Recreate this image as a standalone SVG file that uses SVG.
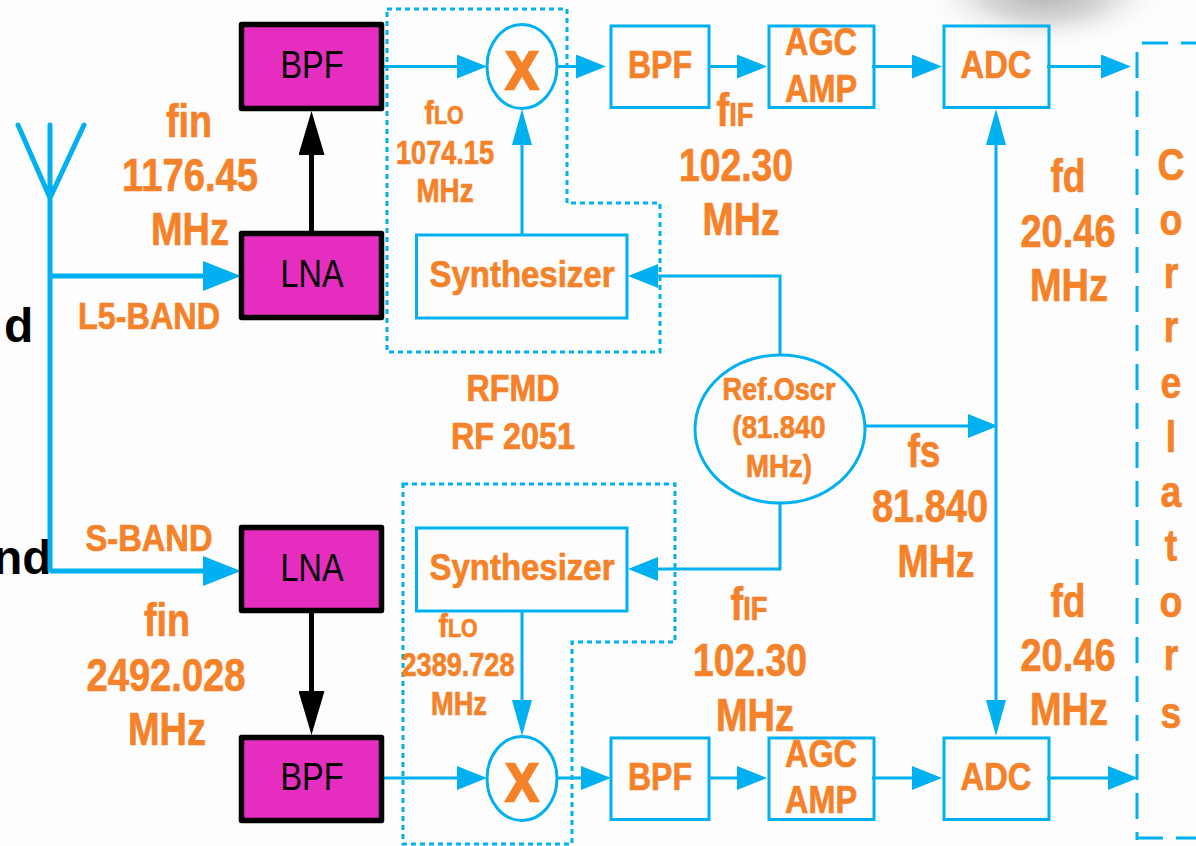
<svg xmlns="http://www.w3.org/2000/svg" width="1196" height="846" viewBox="0 0 1196 846">
<style>
.t{font-family:"Liberation Sans",Arial,sans-serif;font-weight:700;fill:#f58229;stroke:#f58229;stroke-width:.7;text-anchor:middle}
.x{stroke-width:2.5}
.b{font-family:"Liberation Sans",Arial,sans-serif;fill:#000;text-anchor:middle}
.k{font-family:"Liberation Sans",Arial,sans-serif;font-weight:700;fill:#000}
.box{fill:none;stroke:#00b0f0;stroke-width:3}
.ell{fill:#fdfdfd;stroke:#00b0f0;stroke-width:3}
.pink{fill:#e52dc0;stroke:#000;stroke-width:5.5;stroke-linejoin:round}
.c{fill:none;stroke:#00b0f0;stroke-width:3}
.dot{fill:none;stroke:#00b0f0;stroke-width:3;stroke-dasharray:5 4}
</style>
<defs>
<radialGradient id="sh"><stop offset="0" stop-color="#b0b0b0"/><stop offset="0.5" stop-color="#d8d8d8"/><stop offset="1" stop-color="#fdfdfd" stop-opacity="0"/></radialGradient>
<marker id="a" markerUnits="userSpaceOnUse" markerWidth="30" markerHeight="24" refX="0" refY="12" orient="auto"><path d="M0 0L30 12L0 24Z" fill="#00b0f0"/></marker>
<marker id="v" markerUnits="userSpaceOnUse" markerWidth="36" markerHeight="20" refX="0" refY="10" orient="auto"><path d="M0 0L36 10L0 20Z" fill="#00b0f0"/></marker>
<marker id="w" markerUnits="userSpaceOnUse" markerWidth="38" markerHeight="30" refX="0" refY="15" orient="auto"><path d="M0 0L38 15L0 30Z" fill="#00b0f0"/></marker>
<marker id="k" markerUnits="userSpaceOnUse" markerWidth="44" markerHeight="26" refX="0" refY="13" orient="auto"><path d="M0 0L44 13L0 26Z" fill="#000"/></marker>
</defs>
<rect width="1196" height="846" fill="#fdfdfd"/>
<ellipse cx="1045" cy="-10" rx="125" ry="60" fill="url(#sh)"/>
<text class="k" x="4" y="342" font-size="48">d</text>
<text class="k" x="-7" y="574" font-size="48">nd</text>

<g id="connectors">
<path d="M18 125L50 198L84 125M50 125V570" fill="none" stroke="#00b0f0" stroke-width="5" stroke-linecap="round" stroke-linejoin="round"/>
<path d="M50 276H203" fill="none" stroke="#00b0f0" stroke-width="5" marker-end="url(#w)"/>
<path d="M50 571H203" fill="none" stroke="#00b0f0" stroke-width="5" marker-end="url(#w)"/>
<path d="M311.500 232V155" fill="none" stroke="#000" stroke-width="5" marker-end="url(#k)"/>
<path d="M311.500 612V691" fill="none" stroke="#000" stroke-width="5" marker-end="url(#k)"/>
<path class="c" d="M381 66.500H457" marker-end="url(#a)"/>
<path class="c" d="M558 66.500H576" marker-end="url(#a)"/>
<path class="c" d="M710 66.500H737" marker-end="url(#a)"/>
<path class="c" d="M872 66.500H912" marker-end="url(#a)"/>
<path class="c" d="M1047 66.500H1101" marker-end="url(#a)"/>
<path class="c" d="M522 234V145" marker-end="url(#v)"/>
<path class="c" d="M780 355V276H658" marker-end="url(#a)"/>
<path class="c" d="M780 503V569H658" marker-end="url(#a)"/>
<path class="c" d="M522 612V700" marker-end="url(#v)"/>
<path class="c" d="M381 778H457" marker-end="url(#a)"/>
<path class="c" d="M558 778H581" marker-end="url(#a)"/>
<path class="c" d="M710 778H737" marker-end="url(#a)"/>
<path class="c" d="M872 778H912" marker-end="url(#a)"/>
<path class="c" d="M1047 778H1108" marker-end="url(#a)"/>
<path class="c" d="M864 426H968" marker-end="url(#a)"/>
<path class="c" d="M996 400V145" marker-end="url(#v)"/>
<path class="c" d="M996 400V700" marker-end="url(#v)"/>
</g>

<g id="lna-top"><rect class="pink" x="241.500" y="233.500" width="140" height="84"/><text class="b" x="312" y="287" font-size="39" textLength="63" lengthAdjust="spacingAndGlyphs">LNA</text></g>
<g id="bpf-top"><rect class="pink" x="241.500" y="24.500" width="140" height="84"/><text class="b" x="312" y="78" font-size="39" textLength="63" lengthAdjust="spacingAndGlyphs">BPF</text></g>
<g id="lna-bottom"><rect class="pink" x="241.500" y="527.500" width="140" height="83"/><text class="b" x="312" y="581" font-size="39" textLength="63" lengthAdjust="spacingAndGlyphs">LNA</text></g>
<g id="bpf-bottom"><rect class="pink" x="241.500" y="737.500" width="140" height="83"/><text class="b" x="312" y="790" font-size="39" textLength="63" lengthAdjust="spacingAndGlyphs">BPF</text></g>

<g id="rf-top-boundary"><path class="dot" d="M387 9H567V203H660V352H387Z"/></g>
<g id="rf-bottom-boundary"><path class="dot" d="M403 484H675V642H572V844H403Z"/></g>
<g id="correlators-boundary"><path d="M1137 52V840M1142 43H1196M1137 838H1196" fill="none" stroke="#00b0f0" stroke-width="3" stroke-dasharray="26 13"/></g>

<g id="mixer-top"><ellipse class="ell" cx="522" cy="66.500" rx="35" ry="42"/><text class="t x" x="522" y="89" font-size="54" textLength="33" lengthAdjust="spacingAndGlyphs">X</text></g>
<g id="mixer-bottom"><ellipse class="ell" cx="522" cy="778.500" rx="35" ry="42"/><text class="t x" x="522" y="801" font-size="54" textLength="33" lengthAdjust="spacingAndGlyphs">X</text></g>
<g id="synth-top"><rect class="box" x="416.500" y="235" width="210.500" height="83"/><text class="t" x="522" y="287" font-size="37" textLength="185" lengthAdjust="spacingAndGlyphs">Synthesizer</text></g>
<g id="synth-bottom"><rect class="box" x="416.500" y="528" width="210.500" height="83"/><text class="t" x="522" y="580" font-size="37" textLength="185" lengthAdjust="spacingAndGlyphs">Synthesizer</text></g>
<g id="if-bpf-top"><rect class="box" x="611" y="26" width="98" height="81.500"/><text class="t" x="660" y="78" font-size="38" textLength="64" lengthAdjust="spacingAndGlyphs">BPF</text></g>
<g id="agc-top"><rect class="box" x="769" y="26" width="105" height="81.500"/><text class="t" x="821" y="55" font-size="38" textLength="72" lengthAdjust="spacingAndGlyphs">AGC</text><text class="t" x="821" y="102" font-size="38" textLength="72" lengthAdjust="spacingAndGlyphs">AMP</text></g>
<g id="adc-top"><rect class="box" x="944" y="26" width="105" height="81.500"/><text class="t" x="996" y="78" font-size="38" textLength="71" lengthAdjust="spacingAndGlyphs">ADC</text></g>
<g id="if-bpf-bottom"><rect class="box" x="611" y="738" width="98" height="81.500"/><text class="t" x="660" y="790" font-size="38" textLength="64" lengthAdjust="spacingAndGlyphs">BPF</text></g>
<g id="agc-bottom"><rect class="box" x="769" y="738" width="105" height="81.500"/><text class="t" x="821" y="767" font-size="38" textLength="72" lengthAdjust="spacingAndGlyphs">AGC</text><text class="t" x="821" y="813" font-size="38" textLength="72" lengthAdjust="spacingAndGlyphs">AMP</text></g>
<g id="adc-bottom"><rect class="box" x="944" y="738" width="105" height="81.500"/><text class="t" x="996" y="790" font-size="38" textLength="71" lengthAdjust="spacingAndGlyphs">ADC</text></g>
<g id="ref-osc"><ellipse class="ell" cx="780" cy="429" rx="85" ry="74"/>
<text class="t" x="779" y="400" font-size="31" textLength="113" lengthAdjust="spacingAndGlyphs">Ref.Oscr</text>
<text class="t" x="779" y="438" font-size="31" textLength="93" lengthAdjust="spacingAndGlyphs">(81.840</text>
<text class="t" x="779" y="477" font-size="31" textLength="66" lengthAdjust="spacingAndGlyphs">MHz)</text></g>

<g id="labels">
<text class="t" x="189" y="137" font-size="46" textLength="46" lengthAdjust="spacingAndGlyphs">fin</text>
<text class="t" x="190" y="191" font-size="46" textLength="136" lengthAdjust="spacingAndGlyphs">1176.45</text>
<text class="t" x="190" y="245" font-size="46" textLength="78" lengthAdjust="spacingAndGlyphs">MHz</text>
<text class="t" x="149" y="329" font-size="37" textLength="142" lengthAdjust="spacingAndGlyphs">L5-BAND</text>
<text class="t" x="149" y="551" font-size="36" textLength="127" lengthAdjust="spacingAndGlyphs">S-BAND</text>
<text class="t" x="167" y="636" font-size="46" textLength="46" lengthAdjust="spacingAndGlyphs">fin</text>
<text class="t" x="166" y="691" font-size="46" textLength="159" lengthAdjust="spacingAndGlyphs">2492.028</text>
<text class="t" x="167" y="745" font-size="46" textLength="78" lengthAdjust="spacingAndGlyphs">MHz</text>
<text class="t" x="444" y="124" font-size="33" textLength="39" lengthAdjust="spacingAndGlyphs">f<tspan font-size="25">LO</tspan></text>
<text class="t" x="445" y="164" font-size="33" textLength="98" lengthAdjust="spacingAndGlyphs">1074.15</text>
<text class="t" x="445" y="202" font-size="33" textLength="57" lengthAdjust="spacingAndGlyphs">MHz</text>
<text class="t" x="458" y="637" font-size="33" textLength="39" lengthAdjust="spacingAndGlyphs">f<tspan font-size="25">LO</tspan></text>
<text class="t" x="458" y="676" font-size="33" textLength="113" lengthAdjust="spacingAndGlyphs">2389.728</text>
<text class="t" x="459" y="715" font-size="33" textLength="56" lengthAdjust="spacingAndGlyphs">MHz</text>
<text class="t" x="735" y="126" font-size="46" textLength="37" lengthAdjust="spacingAndGlyphs">f<tspan font-size="33">IF</tspan></text>
<text class="t" x="736" y="181" font-size="46" textLength="114" lengthAdjust="spacingAndGlyphs">102.30</text>
<text class="t" x="741" y="235" font-size="46" textLength="77" lengthAdjust="spacingAndGlyphs">MHz</text>
<text class="t" x="749" y="620" font-size="46" textLength="37" lengthAdjust="spacingAndGlyphs">f<tspan font-size="33">IF</tspan></text>
<text class="t" x="750" y="676" font-size="46" textLength="114" lengthAdjust="spacingAndGlyphs">102.30</text>
<text class="t" x="755" y="731" font-size="46" textLength="78" lengthAdjust="spacingAndGlyphs">MHz</text>
<text class="t" x="513" y="401" font-size="36" textLength="93" lengthAdjust="spacingAndGlyphs">RFMD</text>
<text class="t" x="513" y="449" font-size="36" textLength="124" lengthAdjust="spacingAndGlyphs">RF 2051</text>
<text class="t" x="1068" y="192" font-size="46" textLength="35" lengthAdjust="spacingAndGlyphs">fd</text>
<text class="t" x="1068" y="247" font-size="46" textLength="95" lengthAdjust="spacingAndGlyphs">20.46</text>
<text class="t" x="1069" y="301" font-size="46" textLength="78" lengthAdjust="spacingAndGlyphs">MHz</text>
<text class="t" x="1068" y="617" font-size="46" textLength="35" lengthAdjust="spacingAndGlyphs">fd</text>
<text class="t" x="1068" y="671" font-size="46" textLength="95" lengthAdjust="spacingAndGlyphs">20.46</text>
<text class="t" x="1069" y="725" font-size="46" textLength="78" lengthAdjust="spacingAndGlyphs">MHz</text>
<text class="t" x="924" y="467" font-size="46" textLength="33" lengthAdjust="spacingAndGlyphs">fs</text>
<text class="t" x="930" y="522" font-size="46" textLength="116" lengthAdjust="spacingAndGlyphs">81.840</text>
<text class="t" x="936" y="577" font-size="46" textLength="77" lengthAdjust="spacingAndGlyphs">MHz</text>
<text class="t" transform="translate(1171 0) scale(.85 1)" x="0 0 0 0 0 0 0 0 0 0 0" y="180 235 288 342 398 452 507 561 617 670 728" font-size="44">Correlators</text>
</g>
</svg>
